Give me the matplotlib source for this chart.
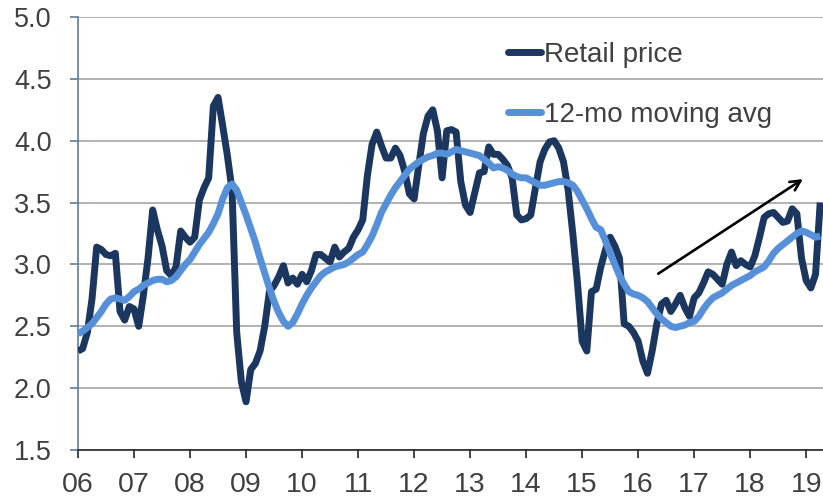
import matplotlib
matplotlib.use("Agg")
import matplotlib.pyplot as plt
import numpy as np

plt.rcParams['font.family'] = ['Liberation Sans', 'DejaVu Sans']

# Monthly data, Jan 2006 .. Apr 2019
retail_price = [
    # 2006
    2.30, 2.32, 2.45, 2.72, 3.14, 3.12, 3.08, 3.07, 3.09, 2.62, 2.55, 2.66,
    # 2007
    2.64, 2.50, 2.75, 3.05, 3.44, 3.28, 3.15, 2.95, 2.91, 2.98, 3.27, 3.22,
    # 2008
    3.18, 3.22, 3.52, 3.62, 3.70, 4.28, 4.35, 4.12, 3.88, 3.60, 2.45, 2.05,
    # 2009
    1.89, 2.15, 2.20, 2.30, 2.50, 2.78, 2.83, 2.90, 2.99, 2.85, 2.89, 2.84,
    # 2010
    2.92, 2.86, 2.95, 3.08, 3.08, 3.05, 3.02, 3.14, 3.06, 3.10, 3.13, 3.22,
    # 2011
    3.28, 3.36, 3.72, 3.97, 4.07, 3.96, 3.86, 3.86, 3.94, 3.88, 3.75, 3.57,
    # 2012
    3.53, 3.80, 4.06, 4.20, 4.25, 4.08, 3.70, 4.08, 4.09, 4.07, 3.67, 3.48,
    # 2013
    3.42, 3.58, 3.74, 3.75, 3.95, 3.89, 3.89, 3.85, 3.80, 3.70, 3.40, 3.36,
    # 2014
    3.37, 3.40, 3.62, 3.83, 3.93, 3.99, 4.00, 3.94, 3.83, 3.60, 3.25, 2.85,
    # 2015
    2.38, 2.30, 2.78, 2.80, 2.98, 3.12, 3.22, 3.15, 3.05, 2.52, 2.50, 2.45,
    # 2016
    2.38, 2.22, 2.12, 2.30, 2.52, 2.68, 2.71, 2.62, 2.68, 2.75, 2.65, 2.58,
    # 2017
    2.73, 2.77, 2.85, 2.94, 2.92, 2.88, 2.84, 3.00, 3.10, 2.99, 3.03, 3.00,
    # 2018
    2.98, 3.07, 3.22, 3.38, 3.41, 3.42, 3.38, 3.34, 3.35, 3.45, 3.41, 3.05,
    # 2019
    2.87, 2.81, 2.92, 3.50,
]

moving_avg_12mo = [
    # 2006
    2.44, 2.46, 2.49, 2.52, 2.57, 2.62, 2.68, 2.72, 2.73, 2.72, 2.71, 2.74,
    # 2007
    2.78, 2.80, 2.83, 2.85, 2.87, 2.88, 2.88, 2.86, 2.87, 2.90, 2.95, 3.00,
    # 2008
    3.04, 3.10, 3.16, 3.21, 3.26, 3.33, 3.41, 3.53, 3.62, 3.65, 3.60, 3.50,
    # 2009
    3.40, 3.29, 3.18, 3.05, 2.93, 2.81, 2.70, 2.61, 2.54, 2.50, 2.53, 2.60,
    # 2010
    2.68, 2.75, 2.81, 2.86, 2.91, 2.94, 2.96, 2.98, 2.99, 3.00, 3.02, 3.05,
    # 2011
    3.08, 3.10, 3.16, 3.23, 3.32, 3.42, 3.49, 3.56, 3.62, 3.67, 3.72, 3.77,
    # 2012
    3.80, 3.83, 3.85, 3.87, 3.88, 3.90, 3.90, 3.89, 3.91, 3.93, 3.92, 3.91,
    # 2013
    3.90, 3.89, 3.88, 3.85, 3.82, 3.78, 3.79, 3.78, 3.76, 3.73, 3.71, 3.70,
    # 2014
    3.70, 3.68, 3.66, 3.64, 3.64, 3.65, 3.66, 3.67, 3.67, 3.66, 3.64, 3.59,
    # 2015
    3.52, 3.45, 3.37, 3.30, 3.28, 3.19, 3.09, 3.00, 2.91, 2.84, 2.78, 2.76,
    # 2016
    2.75, 2.73, 2.70, 2.65, 2.60, 2.56, 2.53, 2.50, 2.49, 2.50, 2.51, 2.53,
    # 2017
    2.54, 2.58, 2.64, 2.69, 2.73, 2.75, 2.77, 2.80, 2.83, 2.85, 2.87, 2.89,
    # 2018
    2.91, 2.94, 2.96, 2.98, 3.03, 3.09, 3.13, 3.16, 3.19, 3.22, 3.25, 3.27,
    # 2019
    3.26, 3.24, 3.22, 3.23,
]

year_labels = ['06', '07', '08', '09', '10', '11', '12', '13',
               '14', '15', '16', '17', '18', '19']
y_ticks = [1.5, 2.0, 2.5, 3.0, 3.5, 4.0, 4.5, 5.0]

series_names = ['Retail price', '12-mo moving avg']
dark_blue = '#1B375F'
light_blue = '#5590D8'
text_col = '#404040'

months = np.arange(len(retail_price))

fig = plt.figure(figsize=(8.23, 4.99), dpi=100)
ax = fig.add_axes([78 / 823, 1 - 450 / 499, 1 - 78 / 823, (450 - 17) / 499])

ax.plot(months, retail_price, color=dark_blue, lw=5.0,
        solid_joinstyle='round', solid_capstyle='butt', label=series_names[0], zorder=3)
ax.plot(months, moving_avg_12mo, color=light_blue, lw=5.0,
        solid_joinstyle='round', solid_capstyle='butt', label=series_names[1], zorder=4)

ax.set_xlim(0, 159.6)
ax.set_ylim(1.5, 5.0)

ax.set_xticks(np.arange(len(year_labels)) * 12)
ax.set_xticklabels(year_labels)
ax.set_yticks(y_ticks)
ax.set_yticklabels([f'{v:.1f}' for v in y_ticks])

ax.grid(axis='y', color='#A6A6A6', lw=1.2, zorder=0)
ax.set_axisbelow(True)

for s in ['top', 'right']:
    ax.spines[s].set_visible(False)
ax.spines['left'].set_color('#5E7E98')
ax.spines['left'].set_linewidth(1.2)
ax.spines['bottom'].set_color('#262626')
ax.spines['bottom'].set_linewidth(1.2)

ax.tick_params(axis='x', direction='out', length=6, width=1.2, color='#262626',
               labelsize=20.5, labelcolor=text_col, pad=10)
ax.tick_params(axis='y', direction='out', length=6, width=1.2, color='#5E7E98',
               labelsize=19.5, labelcolor=text_col, pad=13)

ax.annotate('', xy=(155.3, 3.69), xytext=(124.3, 2.925),
            arrowprops=dict(arrowstyle='->', color='black', lw=1.9,
                            mutation_scale=18, shrinkA=0, shrinkB=0),
            zorder=6)

leg = ax.legend(loc='upper left', bbox_to_anchor=((508 - 78) / 745, (450 - 42) / 433),
                frameon=False, fontsize=20, handlelength=1.2, handletextpad=0.1,
                labelspacing=1.22, borderpad=0, borderaxespad=0)
for t in leg.get_texts():
    t.set_color(text_col)
for h in leg.get_lines():
    h.set_linewidth(5.0)
    h.set_solid_capstyle('round')

fig.savefig('out.png', dpi=100)
